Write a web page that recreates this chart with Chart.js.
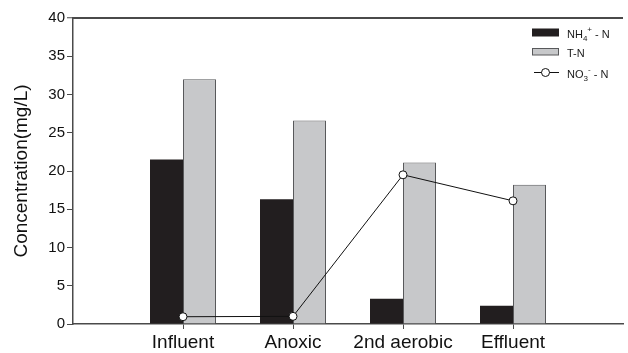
<!DOCTYPE html>
<html>
<head>
<meta charset="utf-8">
<script src="https://cdn.jsdelivr.net/npm/chart.js@4.4.1/dist/chart.umd.min.js"></script>
<style>
html,body{margin:0;padding:0;background:#fff;}
#wrap{position:relative;width:628px;height:353px;}
canvas{display:block;}
#topline{position:absolute;left:73px;top:17px;width:555px;height:0;border-top:2px solid #4a4a4a;pointer-events:none;}
</style>
</head>
<body>
<div id="wrap">
<canvas id="c" width="628" height="353"></canvas>
<div id="topline"></div>
</div>
<script>
const categories = ['', 'Influent', 'Anoxic', '2nd aerobic', 'Effluent', ''];
const nh4Values = [null, 21.5, 16.3, 3.3, 2.4, null];
const tnValues = [null, 32.0, 26.6, 21.1, 18.2, null];
const no3Values = [null, 0.95, 1.0, 19.5, 16.1, null];
const yTicks = [0, 5, 10, 15, 20, 25, 30, 35, 40];

const FONT = "'Liberation Sans', Arial, Helvetica, sans-serif";
const AXIS = '#4a4a4a';

const legendPlugin = {
  id: 'customLegend',
  afterDraw(chart) {
    const ctx = chart.ctx;
    const ca = chart.chartArea;
    const line = document.getElementById('topline');
    line.style.left = ca.left + 'px';
    line.style.top = (ca.top - 1) + 'px';
    line.style.width = (ca.right - ca.left) + 'px';
    ctx.save();
    ctx.lineWidth = 1;
    ctx.fillStyle = '#221e1f';
    ctx.fillRect(532, 28.5, 27, 8);
    ctx.fillStyle = '#c7c8ca';
    ctx.fillRect(532, 48, 27, 7);
    ctx.strokeStyle = '#58595b';
    ctx.strokeRect(532.5, 48.5, 26, 6.5);
    ctx.strokeStyle = '#111';
    ctx.beginPath();
    ctx.moveTo(534, 72.5); ctx.lineTo(559, 72.5); ctx.stroke();
    ctx.beginPath();
    ctx.arc(545.5, 72.5, 4, 0, Math.PI * 2);
    ctx.fillStyle = '#fff'; ctx.fill(); ctx.stroke();

    ctx.fillStyle = '#1a1a1a';
    ctx.textBaseline = 'alphabetic';
    const big = '11px ' + FONT, small = '8px ' + FONT;
    function run(parts, x, y) {
      for (const p of parts) {
        ctx.font = p.s ? small : big;
        ctx.fillText(p.t, x, y + (p.dy || 0));
        x += ctx.measureText(p.t).width;
      }
    }
    run([{t:'NH'},{t:'4',s:1,dy:3},{t:'+',s:1,dy:-6},{t:' - N'}], 567, 37.5);
    run([{t:'T-N'}], 567, 56.7);
    run([{t:'NO'},{t:'3',s:1,dy:3},{t:'-',s:1,dy:-6},{t:' - N'}], 567, 77.5);
    ctx.restore();
  }
};

new Chart(document.getElementById('c'), {
  type: 'bar',
  data: {
    labels: categories,
    datasets: [
      {
        label: 'NH4+-N',
        data: nh4Values,
        backgroundColor: '#221e1f',
        borderColor: '#221e1f',
        borderWidth: 0,
        categoryPercentage: 0.6,
        barPercentage: 1.0,
        order: 2
      },
      {
        label: 'T-N',
        data: tnValues,
        backgroundColor: '#c7c8ca',
        borderColor: '#58595b',
        borderWidth: 1,
        categoryPercentage: 0.6,
        barPercentage: 1.0,
        order: 2
      },
      {
        type: 'line',
        label: 'NO3--N',
        data: no3Values,
        borderColor: '#111',
        borderWidth: 1,
        backgroundColor: '#fff',
        pointBackgroundColor: '#fff',
        pointBorderColor: '#111',
        pointBorderWidth: 1,
        pointRadius: 4,
        tension: 0,
        fill: false,
        order: 0
      }
    ]
  },
  options: {
    responsive: false,
    animation: false,
    devicePixelRatio: 1,
    layout: { padding: { top: 18, right: 0, left: 0, bottom: 0 } },
    plugins: { legend: { display: false }, tooltip: { enabled: false } },
    scales: {
      x: {
        type: 'category',
        offset: false,
        grid: {
          offset: false,
          drawOnChartArea: false,
          drawTicks: true,
          tickLength: 5,
          tickColor: (c) => (c.index === 0 || c.index === categories.length - 1) ? 'rgba(0,0,0,0)' : AXIS,
          tickWidth: 1
        },
        border: { display: true, color: AXIS, width: 1.5 },
        ticks: {
          autoSkip: false,
          maxRotation: 0,
          color: '#111',
          font: { family: FONT, size: 19 },
          padding: 2
        },
        afterFit(s) { s.height = 29; }
      },
      y: {
        min: 0,
        max: 40,
        afterBuildTicks(s) { s.ticks = yTicks.map(v => ({ value: v })); },
        grid: {
          drawOnChartArea: true,
          drawTicks: true,
          tickLength: 6,
          color: (c) => (c.tick && c.tick.value === 40) ? AXIS : 'rgba(0,0,0,0)',
          lineWidth: (c) => (c.tick && c.tick.value === 40) ? 1.5 : 1,
          tickColor: AXIS,
          tickWidth: 1
        },
        border: { display: true, color: AXIS, width: 1.5 },
        ticks: {
          color: '#111',
          font: { family: FONT, size: 15 },
          padding: 2
        },
        title: {
          display: true,
          text: 'Concentration(mg/L)',
          color: '#111',
          font: { family: FONT, size: 19 },
          padding: { top: 10, bottom: 0 }
        },
        afterFit(s) { s.width = 73; }
      }
    }
  },
  plugins: [legendPlugin]
});
</script>
</body>
</html>
